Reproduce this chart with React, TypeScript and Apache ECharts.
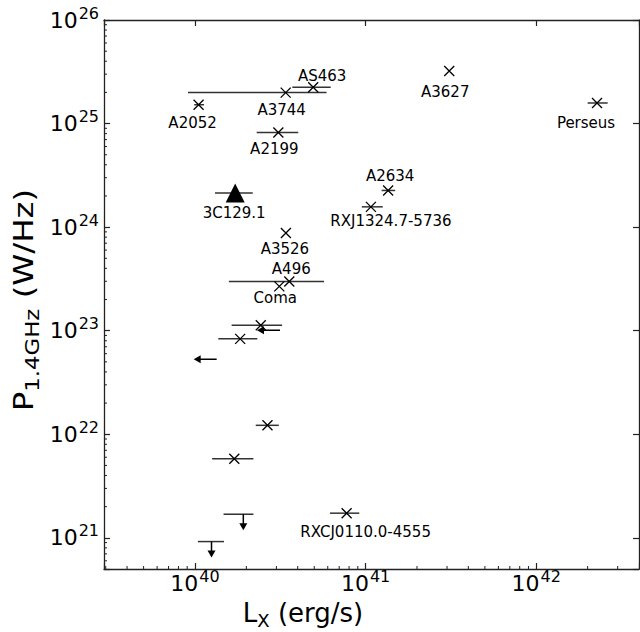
import React, { useEffect, useRef } from 'react';
import * as echarts from 'echarts';

// Axis ranges
const X_MIN = 2.93e39;
const X_MAX = 4.0e42;
const Y_MIN = 5.0e20;
const Y_MAX = 1.0e26;

// Clusters drawn with "x" markers
const crossNames = [
  'A2052', 'A3744', 'AS463', 'A2199', 'A3627', 'Perseus', 'A2634',
  'RXJ1324.7-5736', 'A3526', 'A496', 'Coma', 'RXCJ0110.0-4555', '', '', '', '',
];
const crossLx = [
  1.05e40, 3.4e40, 4.93e40, 3.08e40, 3.09e41, 2.27e42, 1.355e41,
  1.074e41, 3.41e40, 3.57e40, 3.12e40, 7.74e40, 2.43e40, 1.84e40, 2.66e40, 1.7e40,
];
const crossP = [
  1.52e25, 1.99e25, 2.24e25, 8.2e24, 3.22e25, 1.58e25, 2.26e24,
  1.57e24, 8.77e23, 2.99e23, 2.68e23, 1.73e21, 1.13e23, 8.34e22, 1.22e22, 5.8e21,
];

// Triangle source
const triNames = ['3C129.1'];
const triLx = [1.72e40];
const triP = [2.13e24];

// Upper limits in Lx (left arrows)
const leftLimLx = [3.15e40, 1.34e40];
const leftLimP = [1.01e23, 5.3e22];

// Upper limits in P (down arrows)
const downLimLx = [1.92e40, 1.25e40];
const downLimP = [1.69e21, 9.2e20];

// Horizontal error bars in Lx
const errP = [
  1.52e25, 1.99e25, 2.24e25, 8.2e24, 1.58e25, 2.26e24, 1.57e24, 2.13e24,
  2.99e23, 1.13e23, 8.34e22, 1.22e22, 5.8e21, 1.73e21, 1.69e21, 9.2e20,
];
const errLo = [
  9.9e39, 9.1e39, 3.72e40, 2.3e40, 2.0e42, 1.24e41, 9.5e40, 1.31e40,
  1.58e40, 1.64e40, 1.37e40, 2.27e40, 1.26e40, 6.18e40, 1.47e40, 1.04e40,
];
const errHi = [
  1.13e40, 5.9e40, 6.24e40, 4.03e40, 2.62e42, 1.49e41, 1.26e41, 2.18e40,
  5.71e40, 3.24e40, 2.32e40, 3.1e40, 2.2e40, 9.18e40, 2.2e40, 1.48e40,
];

// Label placement (pixel offsets from the point) — styling only
const LABEL_OFFSETS: Record<string, [number, number]> = {
  A2052: [-6, 18],
  A3744: [-4, 17],
  AS463: [9, -11],
  A2199: [-4, 17],
  A3627: [-4, 21],
  Perseus: [-11, 20],
  A2634: [2, -14],
  'RXJ1324.7-5736': [20, 14],
  A3526: [-1, 16],
  A496: [2, -12],
  Coma: [-4, 12],
  'RXCJ0110.0-4555': [19, 19],
  '3C129.1': [-1, 20],
};

const FONT = "'DejaVu Sans', 'Noto Sans', sans-serif";
const INK = '#000';
const SPINE = '#222';

function minorTicks(lo: number, hi: number): number[] {
  const out: number[] = [];
  const e0 = Math.floor(Math.log10(lo));
  const e1 = Math.ceil(Math.log10(hi));
  for (let e = e0; e <= e1; e++) {
    for (let m = 2; m <= 9; m++) {
      const v = m * Math.pow(10, e);
      if (v > lo * 1.001 && v < hi * 0.999) out.push(v);
    }
  }
  return out;
}

const tickRich = {
  b: { fontSize: 22, lineHeight: 22, fontFamily: FONT, color: INK, verticalAlign: 'bottom' },
  s: { fontSize: 16, lineHeight: 16, fontFamily: FONT, color: INK, verticalAlign: 'bottom', padding: [0, 0, 10, 1] },
};

function powLabel(v: number): string {
  const e = Math.log10(v);
  const r = Math.round(e);
  if (Math.abs(e - r) > 1e-6) return '';
  return `{b|10}{s|${r}}`;
}

function axisCommon(extra: any) {
  return {
    type: 'log',
    logBase: 10,
    axisLine: { show: true, onZero: false, lineStyle: { color: SPINE, width: 1.3 } },
    axisTick: { show: true, inside: true, length: 6, lineStyle: { color: SPINE, width: 1.2 } },
    splitLine: { show: false },
    minorTick: { show: false },
    minorSplitLine: { show: false },
    ...extra,
  };
}

export default function App() {
  const ref = useRef<HTMLDivElement>(null);

  useEffect(() => {
    if (!ref.current) return;
    const chart = echarts.init(ref.current, undefined, { renderer: 'svg' });

    const labelStyle = (name: string) => ({
      show: !!name,
      position: 'inside',
      offset: LABEL_OFFSETS[name] || [0, 0],
      formatter: '{b}',
      color: INK,
      opacity: 1,
      fontSize: 15,
      fontFamily: FONT,
    });

    const crossData = crossLx.map((x, i) => ({
      name: crossNames[i],
      value: [x, crossP[i]],
      label: labelStyle(crossNames[i]),
    }));
    const triData = triLx.map((x, i) => ({
      name: triNames[i],
      value: [x, triP[i]],
      label: labelStyle(triNames[i]),
    }));
    const errData = errP.map((y, i) => [errLo[i], errHi[i], y]);
    const leftData = leftLimLx.map((x, i) => [x, leftLimP[i]]);
    const downData = downLimLx.map((x, i) => [x, downLimP[i]]);
    const minorXData = minorTicks(X_MIN, X_MAX).map((v) => [v, Y_MIN]);
    const minorYData = minorTicks(Y_MIN, Y_MAX).map((v) => [X_MIN, v]);

    const option: any = {
      animation: false,
      backgroundColor: '#fff',
      grid: {
        left: 104,
        top: 20,
        right: 1,
        bottom: 63,
        containLabel: false,
        outerBoundsMode: 'none',
      },
      xAxis: [
        axisCommon({
          position: 'bottom',
          min: X_MIN,
          max: X_MAX,
          axisLabel: {
            show: true,
            margin: 3,
            formatter: powLabel,
            rich: tickRich,
            color: INK,
            fontFamily: FONT,
          },
        }),
        axisCommon({
          position: 'top',
          min: X_MIN,
          max: X_MAX,
          axisLabel: { show: false },
        }),
      ],
      yAxis: [
        axisCommon({
          position: 'left',
          min: Y_MIN,
          max: Y_MAX,
          axisLabel: {
            show: true,
            margin: 5,
            formatter: powLabel,
            rich: tickRich,
            color: INK,
            fontFamily: FONT,
          },
        }),
        axisCommon({
          position: 'right',
          min: Y_MIN,
          max: Y_MAX,
          axisLabel: { show: false },
        }),
      ],
      graphic: [
        {
          type: 'text',
          x: 303,
          y: 613,
          style: {
            text: '{b|L}{s|X}{b| (erg/s)}',
            align: 'center',
            verticalAlign: 'middle',
            fill: INK,
            rich: {
              b: { fontSize: 26, lineHeight: 26, fontFamily: FONT, fill: INK, verticalAlign: 'top' },
              s: { fontSize: 18, lineHeight: 18, fontFamily: FONT, fill: INK, verticalAlign: 'top', padding: [11, 0, 0, 0] },
            },
          },
        },
        {
          type: 'text',
          x: 23,
          y: 300,
          rotation: Math.PI / 2,
          scaleX: 1.2,
          style: {
            text: '{b|P}{s|1.4GHz}{b| (W/Hz)}',
            align: 'center',
            verticalAlign: 'middle',
            fill: INK,
            rich: {
              b: { fontSize: 27, lineHeight: 27, fontFamily: FONT, fill: INK, verticalAlign: 'top' },
              s: { fontSize: 19, lineHeight: 19, fontFamily: FONT, fill: INK, verticalAlign: 'top', padding: [14, 0, 0, 0] },
            },
          },
        },
      ],
      series: [
        {
          type: 'custom',
          name: 'minorX',
          xAxisIndex: 0,
          yAxisIndex: 0,
          silent: true,
          encode: { x: 0, y: 1 },
          data: minorXData,
          renderItem: (params: any, api: any) => {
            const cs = params.coordSys;
            const p = api.coord([api.value(0), api.value(1)]);
            const yb = cs.y + cs.height;
            return {
              type: 'line',
              shape: { x1: p[0], y1: yb, x2: p[0], y2: yb - 3 },
              style: { stroke: SPINE, lineWidth: 1 },
            };
          },
        },
        {
          type: 'custom',
          name: 'minorY',
          xAxisIndex: 0,
          yAxisIndex: 0,
          silent: true,
          encode: { x: 0, y: 1 },
          data: minorYData,
          renderItem: (params: any, api: any) => {
            const cs = params.coordSys;
            const p = api.coord([api.value(0), api.value(1)]);
            const xl = cs.x;
            return {
              type: 'line',
              shape: { x1: xl, y1: p[1], x2: xl + 3, y2: p[1] },
              style: { stroke: SPINE, lineWidth: 1 },
            };
          },
        },
        {
          type: 'custom',
          name: 'errorbars',
          silent: true,
          encode: { x: [0, 1], y: 2 },
          data: errData,
          z: 2,
          renderItem: (params: any, api: any) => {
            const lo = api.coord([api.value(0), api.value(2)]);
            const hi = api.coord([api.value(1), api.value(2)]);
            return {
              type: 'line',
              shape: { x1: lo[0], y1: lo[1], x2: hi[0], y2: hi[1] },
              style: { stroke: '#333', lineWidth: 1.5 },
            };
          },
        },
        {
          type: 'custom',
          name: 'leftLimits',
          silent: true,
          encode: { x: 0, y: 1 },
          data: leftData,
          z: 3,
          renderItem: (params: any, api: any) => {
            const p = api.coord([api.value(0), api.value(1)]);
            const L = 23, hl = 7, hw = 4;
            return {
              type: 'group',
              children: [
                {
                  type: 'line',
                  shape: { x1: p[0], y1: p[1], x2: p[0] - L + hl - 1, y2: p[1] },
                  style: { stroke: INK, lineWidth: 1.5 },
                },
                {
                  type: 'polygon',
                  shape: { points: [[p[0] - L, p[1]], [p[0] - L + hl, p[1] - hw], [p[0] - L + hl, p[1] + hw]] },
                  style: { fill: INK },
                },
              ],
            };
          },
        },
        {
          type: 'custom',
          name: 'downLimits',
          silent: true,
          encode: { x: 0, y: 1 },
          data: downData,
          z: 3,
          renderItem: (params: any, api: any) => {
            const p = api.coord([api.value(0), api.value(1)]);
            const L = 16, hl = 7, hw = 4;
            return {
              type: 'group',
              children: [
                {
                  type: 'line',
                  shape: { x1: p[0], y1: p[1], x2: p[0], y2: p[1] + L - hl + 1 },
                  style: { stroke: INK, lineWidth: 1.5 },
                },
                {
                  type: 'polygon',
                  shape: { points: [[p[0], p[1] + L], [p[0] - hw, p[1] + L - hl], [p[0] + hw, p[1] + L - hl]] },
                  style: { fill: INK },
                },
              ],
            };
          },
        },
        {
          type: 'scatter',
          name: 'clusters',
          symbol: 'path://M0,0L10,10M0,10L10,0',
          symbolSize: 10,
          itemStyle: { color: 'none', borderColor: INK, borderWidth: 1.3, opacity: 1 },
          emphasis: { disabled: true },
          z: 4,
          data: crossData,
        },
        {
          type: 'scatter',
          name: 'radio galaxy',
          symbol: 'triangle',
          symbolSize: [19, 19],
          itemStyle: { color: INK, opacity: 1 },
          emphasis: { disabled: true },
          z: 4,
          data: triData,
        },
      ],
    };

    chart.setOption(option);
    return () => chart.dispose();
  }, []);

  return (
    <div
      ref={ref}
      style={{ position: 'fixed', left: 0, top: 0, width: 640, height: 632, background: '#fff' }}
    />
  );
}
